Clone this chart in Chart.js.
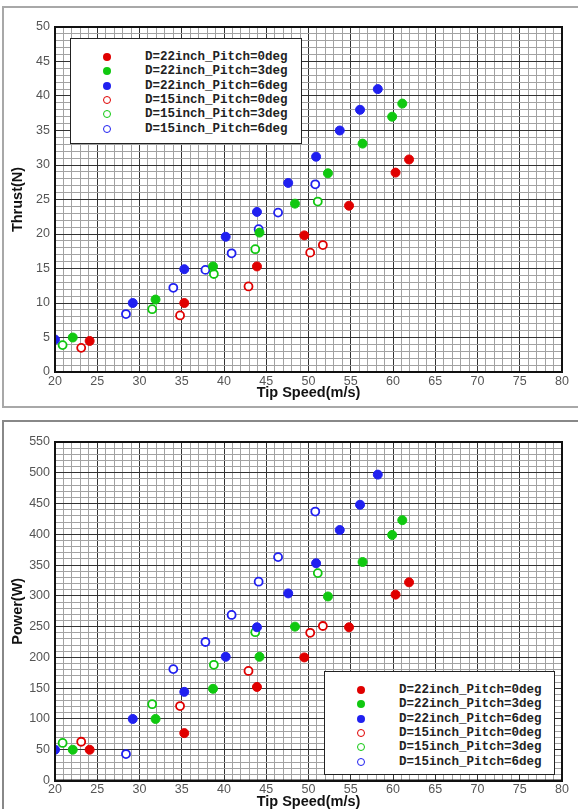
<!DOCTYPE html>
<html>
<head>
<meta charset="utf-8">
<script src="https://cdn.jsdelivr.net/npm/chart.js@4"></script>
<style>
  body { margin: 0; width: 578px; height: 809px; overflow: hidden; background: #fff; position: relative; }
  .panel { position: absolute; border: 2px solid #a8a8a8; }
  canvas { position: absolute; left: 0; }
  .legend { position: absolute; background: #fff; border: 1px solid #222; font: bold 12.5px "Liberation Mono", monospace; color: #222; }
  .legend .row { position: absolute; left: 0; height: 14px; line-height: 14px; white-space: nowrap; }
  .legend .mk { position: absolute; top: 3px; width: 8px; height: 8px; border-radius: 50%; box-sizing: border-box; }
  .legend .tx { position: absolute; top: 0; }
</style>
</head>
<body>
<div class="panel" style="left:2px;top:6px;width:578px;height:398px"></div>
<div class="panel" style="left:2px;top:420px;width:578px;height:400px;border-color:#888"></div>
<canvas id="thrust" width="578" height="405" style="top:0"></canvas>
<canvas id="power" width="578" height="400" style="top:412px"></canvas>
<div class="legend" id="leg1" style="left:70px;top:38px;width:230px;height:104px"></div>
<div class="legend" id="leg2" style="left:324px;top:671px;width:229px;height:102px"></div>
<script>
// series
var names = ["D=22inch_Pitch=0deg", "D=22inch_Pitch=3deg", "D=22inch_Pitch=6deg",
             "D=15inch_Pitch=0deg", "D=15inch_Pitch=3deg", "D=15inch_Pitch=6deg"];
var colors = ["#e00000", "#10c810", "#2020f0", "#e00000", "#10c810", "#2020f0"];
var hollow = [false, false, false, true, true, true];

// tip speed (m/s) per series
var speed22_0 = [24.1, 35.3, 43.9, 49.5, 54.8, 60.3, 61.9];
var speed22_3 = [22.1, 31.9, 38.7, 44.2, 48.4, 52.3, 56.4, 59.9, 61.1];
var speed22_6 = [20.0, 29.2, 35.3, 40.2, 43.9, 47.6, 50.9, 53.7, 56.1, 58.2];
var speed15_0 = [23.1, 34.8, 42.9, 50.2, 51.7];
var speed15_3 = [20.9, 31.5, 38.8, 43.7, 51.1];
var speed15_6 = [28.4, 34.0, 37.8, 40.9, 44.1, 46.4, 50.8];

// thrust (N)
var thrust22_0 = [4.5, 10.0, 15.3, 19.8, 24.1, 28.9, 30.8];
var thrust22_3 = [5.0, 10.5, 15.3, 20.2, 24.4, 28.8, 33.1, 37.0, 38.9];
var thrust22_6 = [4.7, 10.0, 14.9, 19.6, 23.2, 27.4, 31.2, 35.0, 38.0, 41.0];
var thrust15_0 = [3.5, 8.2, 12.4, 17.3, 18.4];
var thrust15_3 = [3.9, 9.1, 14.2, 17.8, 24.7];
var thrust15_6 = [8.4, 12.2, 14.8, 17.2, 20.7, 23.1, 27.2];

// power (W)
var power22_0 = [50, 77, 152, 200, 249, 302, 322];
var power22_3 = [50, 100, 149, 201, 250, 299, 355, 399, 423];
var power22_6 = [50, 100, 144, 201, 249, 304, 353, 407, 448, 497];
var power15_0 = [63, 121, 178, 240, 251];
var power15_3 = [61, 124, 188, 241, 337];
var power15_6 = [43, 181, 225, 269, 323, 363, 437];

var speeds = [speed22_0, speed22_3, speed22_6, speed15_0, speed15_3, speed15_6];
var thrusts = [thrust22_0, thrust22_3, thrust22_6, thrust15_0, thrust15_3, thrust15_6];
var powers = [power22_0, power22_3, power22_6, power15_0, power15_3, power15_6];

var xMin = 20, xMax = 80, xStep = 1, xMajor = 5;

function buildSets(vals) {
    return names.map(function (n, i) {
        return {
            label: n,
            data: speeds[i].map(function (x, j) { return { x: x, y: vals[i][j] }; }),
            pointRadius: hollow[i] ? 4 : 4.5,
            pointBorderWidth: hollow[i] ? 1.8 : 1,
            pointBackgroundColor: hollow[i] ? "#fff" : colors[i],
            pointBorderColor: colors[i],
            showLine: false
        };
    });
}

var framePlugin = {
    id: "frame",
    afterDatasetsDraw: function (chart) {
        var a = chart.chartArea, c = chart.ctx;
        c.save();
        c.strokeStyle = "#111";
        c.lineWidth = 2;
        c.strokeRect(a.left, a.top, a.right - a.left, a.bottom - a.top);
        c.restore();
    }
};

function gridColor(major) {
    return function (ctx) {
        var v = ctx.tick ? ctx.tick.value : 0;
        return Math.abs(v / major - Math.round(v / major)) < 1e-6 ? "#333" : "#a2a2a2";
    };
}

function makeChart(id, vals, yTitle, yMax, yStep, yMajor, lay) {
    var tickFont = { family: "Liberation Sans", size: 12.5 };
    var titleFont = { family: "Liberation Sans", size: 14.5, weight: "bold" };
    new Chart(document.getElementById(id).getContext("2d"), {
        type: "scatter",
        data: { datasets: buildSets(vals) },
        options: {
            responsive: false,
            animation: false,
            devicePixelRatio: 1,
            layout: { padding: { left: 0, right: 16, top: lay.top, bottom: 0 } },
            plugins: { legend: { display: false }, tooltip: { enabled: false } },
            scales: {
                x: {
                    type: "linear", min: xMin, max: xMax,
                    afterFit: function (s) { s.height = lay.xh; },
                    grid: { color: gridColor(xMajor), drawTicks: false, lineWidth: 1 },
                    border: { color: "#111", width: 2 },
                    ticks: {
                        stepSize: xStep, autoSkip: false, maxRotation: 0, padding: 2,
                        color: "#555", font: tickFont,
                        callback: function (v) { return v % xMajor === 0 ? v : ""; }
                    },
                    title: { display: true, text: "Tip Speed(m/s)", color: "#111", font: titleFont, padding: { top: 0, bottom: lay.xtp } }
                },
                y: {
                    type: "linear", min: 0, max: yMax,
                    afterFit: function (s) { s.width = 55; },
                    grid: { color: gridColor(yMajor), drawTicks: false, lineWidth: 1 },
                    border: { color: "#111", width: 2 },
                    ticks: {
                        stepSize: yStep, autoSkip: false, padding: 5,
                        color: "#555", font: tickFont,
                        callback: function (v) { return v % yMajor === 0 ? v : ""; }
                    },
                    title: { display: true, text: yTitle, color: "#111", font: titleFont, padding: { top: 9, bottom: 0 } }
                }
            }
        },
        plugins: [framePlugin]
    });
}

makeChart("thrust", thrusts, "Thrust(N)", 50, 1, 5, { top: 27, xh: 33, xtp: 3 });
makeChart("power", powers, "Power(W)", 550, 10, 50, { top: 30, xh: 31.5, xtp: 1 });

function buildLegend(id, mkLeft, txLeft, firstTop, gap) {
    var box = document.getElementById(id);
    names.forEach(function (n, i) {
        var row = document.createElement("div");
        row.className = "row";
        row.style.top = (firstTop + i * gap) + "px";
        var mk = document.createElement("span");
        mk.className = "mk";
        mk.style.left = mkLeft + "px";
        if (hollow[i]) {
            mk.style.border = "1.8px solid " + colors[i];
            mk.style.background = "#fff";
        } else {
            mk.style.background = colors[i];
        }
        var tx = document.createElement("span");
        tx.className = "tx";
        tx.style.left = txLeft + "px";
        tx.textContent = n;
        row.appendChild(mk);
        row.appendChild(tx);
        box.appendChild(row);
    });
}
buildLegend("leg1", 32, 74, 11, 14.3);
buildLegend("leg2", 32, 74, 11, 14.3);
</script>
</body>
</html>
